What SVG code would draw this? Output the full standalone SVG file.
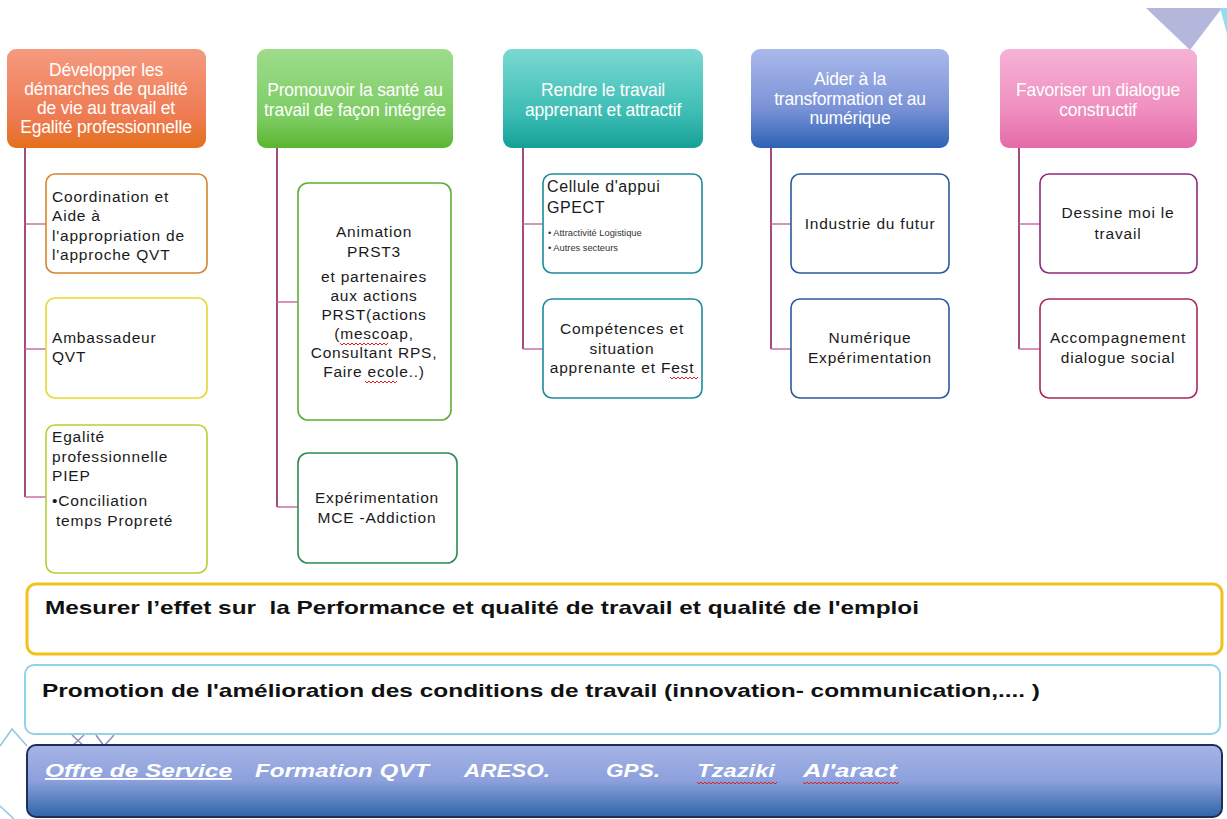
<svg xmlns="http://www.w3.org/2000/svg" width="1227" height="819" viewBox="0 0 1227 819">
<defs>
<linearGradient id="gOrange" x1="0" y1="0" x2="0" y2="1"><stop offset="0" stop-color="#f59a80"/><stop offset="0.7" stop-color="#ee7a50"/><stop offset="1" stop-color="#e4701c"/></linearGradient>
<linearGradient id="gGreen" x1="0" y1="0" x2="0" y2="1"><stop offset="0" stop-color="#9edc8c"/><stop offset="0.7" stop-color="#7ccc62"/><stop offset="1" stop-color="#5bb52e"/></linearGradient>
<linearGradient id="gTeal" x1="0" y1="0" x2="0" y2="1"><stop offset="0" stop-color="#7ad9d2"/><stop offset="0.65" stop-color="#3cbdb4"/><stop offset="1" stop-color="#14a096"/></linearGradient>
<linearGradient id="gBlue" x1="0" y1="0" x2="0" y2="1"><stop offset="0" stop-color="#aab9ec"/><stop offset="0.6" stop-color="#7a92d6"/><stop offset="1" stop-color="#2c62b4"/></linearGradient>
<linearGradient id="gPink" x1="0" y1="0" x2="0" y2="1"><stop offset="0" stop-color="#f6b2d6"/><stop offset="0.6" stop-color="#f090c0"/><stop offset="1" stop-color="#e46aa8"/></linearGradient>
<linearGradient id="gBar" x1="0" y1="0" x2="0" y2="1"><stop offset="0" stop-color="#a6b4e6"/><stop offset="0.5" stop-color="#8ca0dc"/><stop offset="1" stop-color="#2e64a8"/></linearGradient>
<style>
.hdr{stroke:none}
.ht{font-family:"Liberation Sans",Arial,sans-serif;font-size:17.5px;fill:#ffffff;text-anchor:middle;letter-spacing:-0.2px}
.box{fill:#ffffff;stroke-width:1.6}
.t{font-family:"Liberation Sans",Arial,sans-serif;font-size:15.5px;fill:#1a1a1a;letter-spacing:0.8px}
.tc{text-anchor:middle}
.sm{font-family:"Liberation Sans",Arial,sans-serif;font-size:9.3px;fill:#333}
.conn{stroke:#8a1e5e;stroke-width:1.6;fill:none}
.tick{stroke:#c870a8;stroke-width:1.4;fill:none}
.bt{font-family:"Liberation Sans",Arial,sans-serif;font-size:19px;font-weight:bold;fill:#111;white-space:pre}
.wt{font-family:"Liberation Sans",Arial,sans-serif;font-size:19px;font-weight:bold;font-style:italic;fill:#ffffff}
.wave{stroke:#e02020;stroke-width:1;fill:none}
</style>
</defs>
<rect width="1227" height="819" fill="#ffffff"/>

<!-- decorative -->
<polygon points="1146,8 1222,8 1190,50" fill="#b4b6dc"/>
<polygon points="1220,8 1227,8 1227,34" fill="#8fe0ec"/>
<polyline points="0,746 12,729 27,746" fill="none" stroke="#8cc8e0" stroke-width="1.5"/>
<polyline points="0,806 14,819" fill="none" stroke="#8cc8e0" stroke-width="1.5"/>
<path d="M72,735 L84,746 M84,735 L72,746 M96,735 L104,746 L114,735" fill="none" stroke="#8a90b8" stroke-width="1.5"/>

<!-- connectors -->
<g id="connectors">
<path class="conn" d="M25,148 V497"/>
<path class="tick" d="M25,224 H46 M25,349 H46 M25,497 H46"/>
<path class="conn" d="M277,148 V507"/>
<path class="tick" d="M277,302 H298 M277,507 H298"/>
<path class="conn" d="M523,148 V349"/>
<path class="tick" d="M523,224 H543 M523,349 H543"/>
<path class="conn" d="M771,148 V349"/>
<path class="tick" d="M771,224 H791 M771,349 H791"/>
<path class="conn" d="M1019,148 V349"/>
<path class="tick" d="M1019,224 H1040 M1019,349 H1040"/>
</g>

<!-- headers -->
<g id="h1"><rect class="hdr" x="7" y="49" width="199" height="99" rx="9" fill="url(#gOrange)"/>
<text class="ht" x="106" y="76">Développer les</text>
<text class="ht" x="106" y="95">démarches de qualité</text>
<text class="ht" x="106" y="114">de vie au travail  et</text>
<text class="ht" x="106" y="133">Egalité professionnelle</text></g>
<g id="h2"><rect class="hdr" x="257" y="49" width="196" height="99" rx="9" fill="url(#gGreen)"/>
<text class="ht" x="355" y="96">Promouvoir la santé au</text>
<text class="ht" x="355" y="116">travail de façon intégrée</text></g>
<g id="h3"><rect class="hdr" x="503" y="49" width="200" height="99" rx="9" fill="url(#gTeal)"/>
<text class="ht" x="603" y="96">Rendre le travail</text>
<text class="ht" x="603" y="116">apprenant et attractif</text></g>
<g id="h4"><rect class="hdr" x="751" y="49" width="198" height="99" rx="9" fill="url(#gBlue)"/>
<text class="ht" x="850" y="85">Aider à la</text>
<text class="ht" x="850" y="105">transformation et au</text>
<text class="ht" x="850" y="124">numérique</text></g>
<g id="h5"><rect class="hdr" x="1000" y="49" width="197" height="99" rx="9" fill="url(#gPink)"/>
<text class="ht" x="1098" y="96">Favoriser un dialogue</text>
<text class="ht" x="1098" y="116">constructif</text></g>

<!-- column 1 -->
<g id="c1a"><rect class="box" x="46" y="174" width="161" height="99" rx="9" stroke="#d8842c"/>
<text class="t" x="52" y="202">Coordination et</text>
<text class="t" x="52" y="221">Aide à</text>
<text class="t" x="52" y="241">l'appropriation de</text>
<text class="t" x="52" y="260">l'approche QVT</text></g>
<g id="c1b"><rect class="box" x="46" y="298" width="161" height="100" rx="9" stroke="#e6d82e"/>
<text class="t" x="52" y="343">Ambassadeur</text>
<text class="t" x="52" y="362">QVT</text></g>
<g id="c1c"><rect class="box" x="46" y="425" width="161" height="148" rx="9" stroke="#b6d032"/>
<text class="t" x="52" y="442">Egalité</text>
<text class="t" x="52" y="462">professionnelle</text>
<text class="t" x="52" y="481">PIEP</text>
<text class="t" x="52" y="506">•Conciliation</text>
<text class="t" x="56" y="526">temps Propreté</text></g>

<!-- column 2 -->
<g id="c2a"><rect class="box" x="298" y="183" width="153" height="237" rx="10" stroke="#5aae36"/>
<text class="t tc" x="374" y="237">Animation</text>
<text class="t tc" x="374" y="257">PRST3</text>
<text class="t tc" x="374" y="282">et partenaires</text>
<text class="t tc" x="374" y="301">aux actions</text>
<text class="t tc" x="374" y="320">PRST(actions</text>
<text class="t tc" x="374" y="339">(mescoap,</text>
<text class="t tc" x="374" y="358">Consultant RPS,</text>
<text class="t tc" x="374" y="377">Faire ecole..)</text>
<path class="wave" d="M340,343 l2,2 l2,-2 l2,2 l2,-2 l2,2 l2,-2 l2,2 l2,-2 l2,2 l2,-2 l2,2 l2,-2 l2,2 l2,-2 l2,2 l2,-2 l2,2 l2,-2 l2,2 l2,-2 l2,2 l2,-2 l2,2 l2,-2"/>
<path class="wave" d="M365,381 l2,2 l2,-2 l2,2 l2,-2 l2,2 l2,-2 l2,2 l2,-2 l2,2 l2,-2 l2,2 l2,-2 l2,2 l2,-2 l2,2 l2,-2"/></g>
<g id="c2b"><rect class="box" x="298" y="453" width="159" height="110" rx="10" stroke="#2e8a52"/>
<text class="t tc" x="377" y="503">Expérimentation</text>
<text class="t tc" x="377" y="523">MCE -Addiction</text></g>

<!-- column 3 -->
<g id="c3a"><rect class="box" x="543" y="174" width="159" height="99" rx="9" stroke="#1e8a9c"/>
<text class="t" x="547" y="192" style="font-size:16px;letter-spacing:0.6px">Cellule d'appui</text>
<text class="t" x="547" y="213" style="font-size:16px;letter-spacing:0.6px">GPECT</text>
<text class="sm" x="548" y="236">• Attractivité Logistique</text>
<text class="sm" x="548" y="251">• Autres secteurs</text></g>
<g id="c3b"><rect class="box" x="543" y="299" width="159" height="99" rx="9" stroke="#1e8a9c"/>
<text class="t tc" x="622" y="334">Compétences et</text>
<text class="t tc" x="622" y="354">situation</text>
<text class="t tc" x="622" y="373">apprenante et Fest</text>
<path class="wave" d="M670,377 l2,2 l2,-2 l2,2 l2,-2 l2,2 l2,-2 l2,2 l2,-2 l2,2 l2,-2 l2,2 l2,-2 l2,2 l2,-2"/></g>

<!-- column 4 -->
<g id="c4a"><rect class="box" x="791" y="174" width="158" height="99" rx="9" stroke="#2a5a9c"/>
<text class="t tc" x="870" y="229">Industrie du futur</text></g>
<g id="c4b"><rect class="box" x="791" y="299" width="158" height="99" rx="9" stroke="#2a5a9c"/>
<text class="t tc" x="870" y="343">Numérique</text>
<text class="t tc" x="870" y="363">Expérimentation</text></g>

<!-- column 5 -->
<g id="c5a"><rect class="box" x="1040" y="174" width="157" height="99" rx="9" stroke="#8e2a7e"/>
<text class="t tc" x="1118" y="218">Dessine moi le</text>
<text class="t tc" x="1118" y="239">travail</text></g>
<g id="c5b"><rect class="box" x="1040" y="299" width="157" height="99" rx="9" stroke="#a8285e"/>
<text class="t tc" x="1118" y="343">Accompagnement</text>
<text class="t tc" x="1118" y="363">dialogue social</text></g>

<!-- bottom bars -->
<g id="bar1"><rect x="27" y="584" width="1195" height="70" rx="9" fill="#ffffff" stroke="#f2c21c" stroke-width="3"/>
<text class="bt" x="45" y="614" textLength="874" lengthAdjust="spacingAndGlyphs">Mesurer l’effet sur  la Performance et qualité de travail et qualité de l'emploi</text></g>
<g id="bar2"><rect x="25" y="665" width="1195" height="69" rx="9" fill="#ffffff" stroke="#92d2ea" stroke-width="2"/>
<text class="bt" x="42" y="697" textLength="998" lengthAdjust="spacingAndGlyphs">Promotion de l'amélioration des conditions de travail (innovation- communication,.... )</text></g>
<g id="bar3"><rect x="27" y="745" width="1195" height="72" rx="9" fill="url(#gBar)" stroke="#1e2e5a" stroke-width="2"/>
<text class="wt" x="45" y="777" text-decoration="underline" textLength="187" lengthAdjust="spacingAndGlyphs">Offre de Service</text>
<text class="wt" x="255" y="777" textLength="174" lengthAdjust="spacingAndGlyphs">Formation QVT</text>
<text class="wt" x="464" y="777" textLength="86" lengthAdjust="spacingAndGlyphs">ARESO.</text>
<text class="wt" x="606" y="777" textLength="54" lengthAdjust="spacingAndGlyphs">GPS.</text>
<text class="wt" x="697" y="777" textLength="78" lengthAdjust="spacingAndGlyphs">Tzaziki</text>
<text class="wt" x="803" y="777" textLength="94" lengthAdjust="spacingAndGlyphs">Al'aract</text>
<path class="wave" d="M697,782 l2,2 l2,-2 l2,2 l2,-2 l2,2 l2,-2 l2,2 l2,-2 l2,2 l2,-2 l2,2 l2,-2 l2,2 l2,-2 l2,2 l2,-2 l2,2 l2,-2 l2,2 l2,-2 l2,2 l2,-2 l2,2 l2,-2 l2,2 l2,-2 l2,2 l2,-2 l2,2 l2,-2 l2,2 l2,-2 l2,2 l2,-2 l2,2 l2,-2 l2,2 l2,-2 l2,2 l2,-2"/>
<path class="wave" d="M803,782 l2,2 l2,-2 l2,2 l2,-2 l2,2 l2,-2 l2,2 l2,-2 l2,2 l2,-2 l2,2 l2,-2 l2,2 l2,-2 l2,2 l2,-2 l2,2 l2,-2 l2,2 l2,-2 l2,2 l2,-2 l2,2 l2,-2 l2,2 l2,-2 l2,2 l2,-2 l2,2 l2,-2 l2,2 l2,-2 l2,2 l2,-2 l2,2 l2,-2 l2,2 l2,-2 l2,2 l2,-2 l2,2 l2,-2 l2,2 l2,-2 l2,2 l2,-2 l2,2 l2,-2"/></g>
</svg>
